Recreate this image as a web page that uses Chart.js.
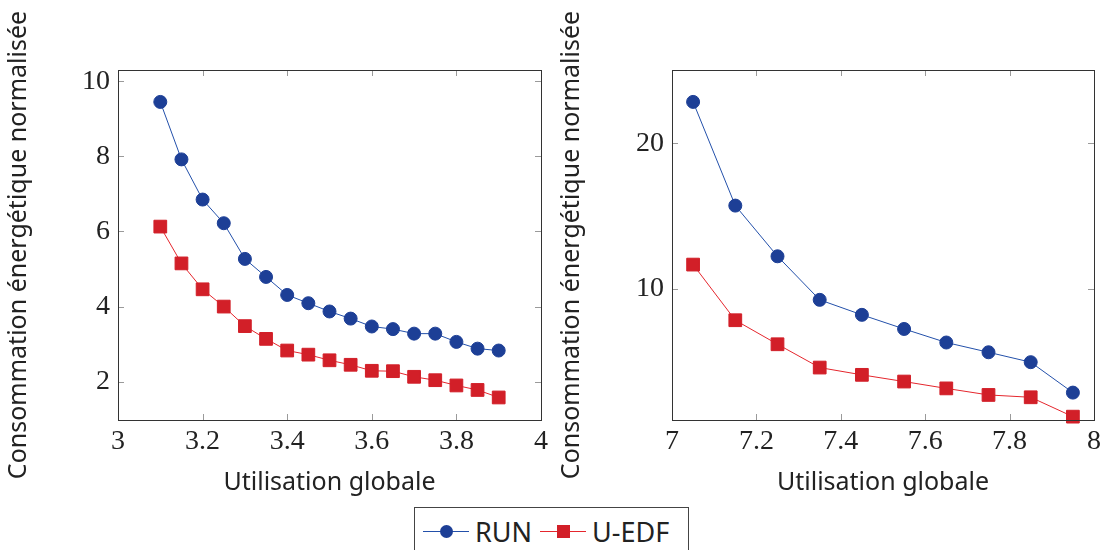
<!DOCTYPE html>
<html>
<head>
<meta charset="utf-8">
<script src="https://cdn.jsdelivr.net/npm/chart.js@4"></script>
<style>
    body { margin: 0; background: #fff; width: 1106px; height: 550px; overflow: hidden; position: relative; }
    .panel { position: absolute; top: 0; }
    #legende {
        position: absolute; left: 414px; top: 507px; width: 275px; height: 48px;
        border: 1px solid #444; box-sizing: border-box; background: #fff;
        display: flex; align-items: center; padding-left: 8px;
        font-family: "Noto Sans", sans-serif; font-size: 27px; color: #222;
    }
    .item { display: flex; align-items: center; margin-right: 8px; }
    .trait { position: relative; width: 46px; height: 1px; margin-right: 6px; }
    .marque { position: absolute; left: 17px; top: -6px; width: 13px; height: 13px; }
</style>
</head>
<body>
<div class="panel" style="left:0"><canvas id="graficoGauche" width="553" height="500"></canvas></div>
<div class="panel" style="left:553px"><canvas id="graficoDroite" width="553" height="500"></canvas></div>
<div id="legende"></div>

<script>
// === DONNÉES ===
const series = ["RUN", "U-EDF"];

const xGauche = [3.1, 3.15, 3.2, 3.25, 3.3, 3.35, 3.4, 3.45, 3.5, 3.55, 3.6, 3.65, 3.7, 3.75, 3.8, 3.85, 3.9];
const runGauche = [9.45, 7.92, 6.85, 6.22, 5.27, 4.79, 4.31, 4.09, 3.87, 3.68, 3.47, 3.40, 3.28, 3.28, 3.06, 2.88, 2.83];
const uedfGauche = [6.13, 5.15, 4.46, 4.0, 3.48, 3.14, 2.83, 2.72, 2.57, 2.45, 2.29, 2.28, 2.13, 2.04, 1.9, 1.78, 1.58];

const xDroite = [7.05, 7.15, 7.25, 7.35, 7.45, 7.55, 7.65, 7.75, 7.85, 7.95];
const runDroite = [22.84, 15.72, 12.24, 9.25, 8.22, 7.25, 6.32, 5.65, 4.97, 2.88];
const uedfDroite = [11.67, 7.85, 6.2, 4.6, 4.1, 3.64, 3.17, 2.72, 2.56, 1.23];

const xTicksGauche = [3, 3.2, 3.4, 3.6, 3.8, 4];
const yTicksGauche = [2, 4, 6, 8, 10];
const xTicksDroite = [7, 7.2, 7.4, 7.6, 7.8, 8];
const yTicksDroite = [10, 20];

const couleurs = {
    RUN: { ligne: "#2350aa", point: "#1d3f96", forme: "circle", rayon: 6.5 },
    "U-EDF": { ligne: "#e5262d", point: "#d21f28", forme: "rect", rayon: 9 }
};

// petits traits vers l'intérieur sur les 4 côtés + cadre
const cadrePgf = {
    id: "cadrePgf",
    afterDraw(chart) {
        const { ctx, chartArea: a, scales } = chart;
        ctx.save();
        ctx.strokeStyle = "#9a9a9a";
        ctx.lineWidth = 1;
        ctx.beginPath();
        scales.x.ticks.forEach(t => {
            const px = Math.round(scales.x.getPixelForValue(t.value)) + 0.5;
            ctx.moveTo(px, a.bottom); ctx.lineTo(px, a.bottom - 6);
            ctx.moveTo(px, a.top); ctx.lineTo(px, a.top + 6);
        });
        scales.y.ticks.forEach(t => {
            const py = Math.round(scales.y.getPixelForValue(t.value)) + 0.5;
            ctx.moveTo(a.left, py); ctx.lineTo(a.left + 6, py);
            ctx.moveTo(a.right, py); ctx.lineTo(a.right - 6, py);
        });
        ctx.stroke();
        ctx.strokeStyle = "#333";
        ctx.strokeRect(a.left + 0.5, a.top + 0.5, a.right - a.left, a.bottom - a.top);
        ctx.restore();
    }
};

function dataset(nom, xs, ys) {
    const c = couleurs[nom];
    return {
        label: nom,
        data: xs.map((x, i) => ({ x: x, y: ys[i] })),
        borderColor: c.ligne,
        borderWidth: 1,
        pointStyle: c.forme,
        pointRadius: c.rayon,
        pointBackgroundColor: c.point,
        pointBorderColor: c.point,
        pointBorderWidth: 1,
        tension: 0,
        clip: false
    };
}

function gerarGrafico(id, xs, run, uedf, xMin, xMax, yMin, yMax, xTicks, yTicks, largeurY) {
    new Chart(document.getElementById(id), {
        type: "line",
        data: { datasets: [dataset("RUN", xs, run), dataset("U-EDF", xs, uedf)] },
        options: {
            responsive: false,
            animation: false,
            layout: { padding: { top: 70, right: 8, left: 0, bottom: 0 } },
            plugins: { legend: { display: false }, tooltip: { enabled: false } },
            scales: {
                x: {
                    type: "linear", min: xMin, max: xMax,
                    afterBuildTicks: s => { s.ticks = xTicks.map(v => ({ value: v })); },
                    afterFit: s => { s.height = 80; },
                    grid: { display: false, drawTicks: false },
                    border: { display: false },
                    ticks: {
                        padding: 5, color: "#222",
                        font: { family: "'Liberation Serif', serif", size: 28 },
                        callback: v => String(Number(v.toFixed(1)))
                    },
                    title: {
                        display: true, text: "Utilisation globale", color: "#222",
                        font: { family: "'Noto Sans', sans-serif", size: 25 },
                        padding: { top: 0, bottom: 2 }
                    }
                },
                y: {
                    min: yMin, max: yMax,
                    afterBuildTicks: s => { s.ticks = yTicks.map(v => ({ value: v })); },
                    afterFit: s => { s.width = largeurY; },
                    grid: { display: false, drawTicks: false },
                    border: { display: false },
                    ticks: {
                        padding: 8, color: "#222",
                        font: { family: "'Liberation Serif', serif", size: 28 }
                    },
                    title: {
                        display: true, text: "Consommation énergétique normalisée", color: "#222",
                        font: { family: "'Noto Sans', sans-serif", size: 25 },
                        padding: { top: 4, bottom: 0 }
                    }
                }
            }
        },
        plugins: [cadrePgf]
    });
}

gerarGrafico("graficoGauche", xGauche, runGauche, uedfGauche, 3, 4, 0.98, 10.3, xTicksGauche, yTicksGauche, 118);
gerarGrafico("graficoDroite", xDroite, runDroite, uedfDroite, 7, 8, 1, 25.03, xTicksDroite, yTicksDroite, 119);

// Légende commune
const legende = document.getElementById("legende");
series.forEach(nom => {
    const c = couleurs[nom];
    const item = document.createElement("span");
    item.className = "item";
    item.innerHTML = `
        <span class="trait" style="background:${c.ligne}">
            <span class="marque" style="background:${c.point};border-radius:${c.forme === 'circle' ? '50%' : '0'}"></span>
        </span>
        <span>${nom}</span>`;
    legende.appendChild(item);
});
</script>
</body>
</html>
